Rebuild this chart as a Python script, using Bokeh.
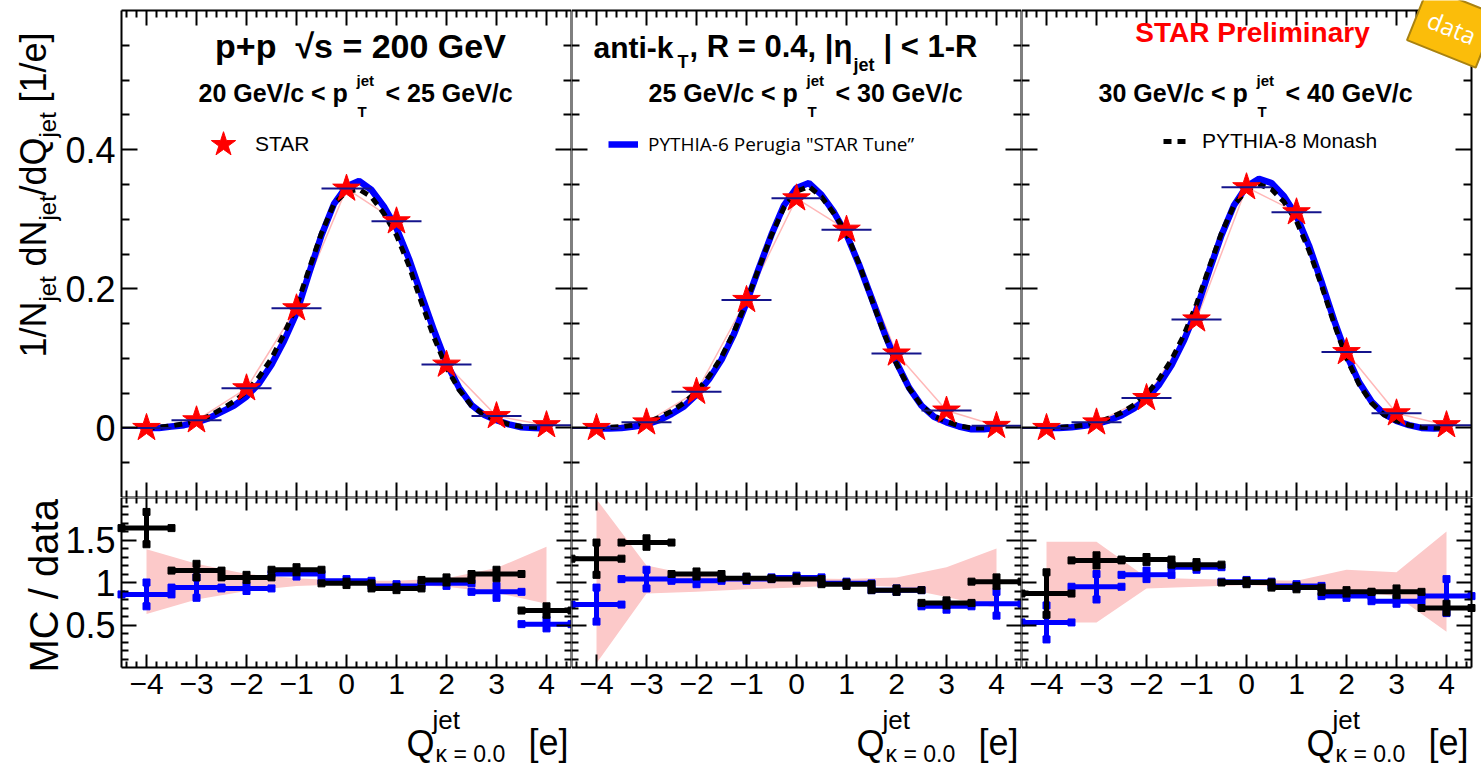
import numpy as np
import pandas as pd
from bokeh.plotting import figure
from bokeh.models import (ColumnDataSource, Range1d, LinearAxis, FixedTicker,
                          Label, Legend, LegendItem)
from bokeh.layouts import column, row
from bokeh.embed import file_html
from bokeh.resources import INLINE

# ---------------------------------------------------------------- data
q_bins = [-4, -3, -2, -1, 0, 1, 2, 3, 4]
q_half_width = 0.5
x_tick_labels = ["\u22124", "\u22123", "\u22122", "\u22121", "0", "1", "2", "3", "4"]
y_up_ticks = [0.0, 0.2, 0.4]
y_up_tick_labels = ["0", "0.2", "0.4"]
y_lo_ticks = [0.5, 1.0, 1.5]
y_lo_tick_labels = ["0.5", "1", "1.5"]

pt_low_text = ["20 GeV/c < p", "25 GeV/c < p", "30 GeV/c < p"]
pt_high_text = ["< 25 GeV/c", "< 30 GeV/c", "< 40 GeV/c"]

# STAR data (red stars)
star_pt20 = [0.000, 0.011, 0.057, 0.172, 0.344, 0.297, 0.091, 0.017, 0.004]
star_pt25 = [0.000, 0.008, 0.052, 0.184, 0.330, 0.285, 0.107, 0.025, 0.003]
star_pt30 = [0.000, 0.008, 0.043, 0.156, 0.346, 0.310, 0.109, 0.021, 0.004]

# MC curves
curve_q = [-4.0, -3.75, -3.5, -3.25, -3.0, -2.75, -2.5, -2.25, -2.0, -1.75, -1.5,
           -1.25, -1.0, -0.75, -0.5, -0.25, 0.0, 0.25, 0.5, 0.75, 1.0, 1.25, 1.5,
           1.75, 2.0, 2.25, 2.5, 2.75, 3.0, 3.25, 3.5, 3.75, 4.0]
p6_pt20 = [0.000, 0.000, 0.002, 0.004, 0.008, 0.014, 0.023, 0.032, 0.045, 0.064, 0.091,
           0.125, 0.165, 0.222, 0.277, 0.322, 0.347, 0.355, 0.342, 0.318, 0.287, 0.243, 0.191,
           0.140, 0.093, 0.058, 0.033, 0.019, 0.011, 0.005, 0.001, 0.000, -0.001]
p8_pt20 = [0.000, 0.001, 0.003, 0.006, 0.010, 0.017, 0.027, 0.038, 0.052, 0.073, 0.100,
           0.135, 0.175, 0.228, 0.280, 0.322, 0.340, 0.343, 0.332, 0.308, 0.277, 0.233, 0.180,
           0.130, 0.087, 0.055, 0.032, 0.019, 0.011, 0.005, 0.002, 0.001, 0.000]
p6_pt25 = [-0.001, -0.001, 0.000, 0.002, 0.005, 0.011, 0.020, 0.031, 0.048, 0.070, 0.098,
           0.135, 0.180, 0.230, 0.278, 0.320, 0.345, 0.352, 0.335, 0.310, 0.278, 0.235, 0.187,
           0.138, 0.094, 0.058, 0.032, 0.016, 0.008, 0.002, -0.002, -0.002, 0.000]
p8_pt25 = [0.000, 0.001, 0.002, 0.004, 0.008, 0.015, 0.024, 0.036, 0.052, 0.074, 0.102,
           0.138, 0.182, 0.230, 0.277, 0.317, 0.340, 0.347, 0.332, 0.308, 0.280, 0.236, 0.185,
           0.136, 0.092, 0.057, 0.032, 0.017, 0.009, 0.003, 0.000, 0.000, 0.000]
p6_pt30 = [0.000, 0.000, 0.001, 0.003, 0.006, 0.011, 0.018, 0.028, 0.042, 0.062, 0.090,
           0.126, 0.170, 0.225, 0.277, 0.320, 0.347, 0.358, 0.352, 0.333, 0.305, 0.262, 0.210,
           0.155, 0.105, 0.066, 0.038, 0.020, 0.010, 0.004, 0.000, -0.001, 0.000]
p8_pt30 = [0.000, 0.001, 0.002, 0.004, 0.008, 0.014, 0.022, 0.033, 0.048, 0.070, 0.098,
           0.134, 0.178, 0.230, 0.280, 0.320, 0.342, 0.350, 0.343, 0.325, 0.297, 0.255, 0.205,
           0.150, 0.100, 0.063, 0.036, 0.019, 0.010, 0.004, 0.001, 0.000, 0.000]

# MC / data ratios
r8_pt20 = [1.64, 1.14, 1.06, 1.15, 0.99, 0.93, 1.03, 1.10, 0.67]
e8_pt20 = [0.19, 0.08, 0.03, 0.03, 0.02, 0.02, 0.03, 0.05, 0.05]
r6_pt20 = [0.86, 0.94, 0.93, 1.10, 1.02, 0.96, 0.99, 0.89, 0.51]
e6_pt20 = [0.14, 0.12, 0.03, 0.03, 0.02, 0.02, 0.03, 0.07, 0.05]
r8_pt25 = [1.28, 1.47, 1.10, 1.05, 1.04, 0.98, 0.91, 0.76, 1.01]
e8_pt25 = [0.19, 0.05, 0.03, 0.02, 0.02, 0.02, 0.02, 0.03, 0.05]
r6_pt25 = [0.74, 1.04, 1.02, 1.04, 1.06, 0.99, 0.91, 0.72, 0.75]
e6_pt25 = [0.20, 0.11, 0.04, 0.02, 0.02, 0.02, 0.02, 0.04, 0.14]
r8_pt30 = [0.87, 1.26, 1.27, 1.21, 1.00, 0.94, 0.89, 0.89, 0.70]
e8_pt30 = [0.25, 0.06, 0.03, 0.03, 0.02, 0.02, 0.02, 0.04, 0.05]
r6_pt30 = [0.53, 0.95, 1.09, 1.18, 1.01, 0.96, 0.84, 0.78, 0.84]
e6_pt30 = [0.20, 0.15, 0.05, 0.03, 0.02, 0.02, 0.02, 0.03, 0.20]

# systematic band of the data (relative)
sys_lo_pt20 = [0.63, 0.80, 0.90, 0.96, 0.98, 0.98, 0.95, 0.88, 0.75]
sys_hi_pt20 = [1.39, 1.22, 1.10, 1.05, 1.02, 1.02, 1.05, 1.17, 1.42]
sys_lo_pt25 = [0.05, 0.87, 0.89, 0.92, 0.94, 0.97, 0.95, 0.83, 0.70]
sys_hi_pt25 = [1.98, 1.20, 1.08, 1.06, 1.05, 1.04, 1.06, 1.18, 1.40]
sys_lo_pt30 = [0.53, 0.53, 0.93, 0.95, 0.97, 0.95, 0.90, 0.84, 0.42]
sys_hi_pt30 = [1.48, 1.48, 1.06, 1.04, 1.03, 1.02, 1.15, 1.12, 1.60]

# ---------------------------------------------------------------- layout constants
FONT = "Liberation Sans"
PAGE_W, PAGE_H = 1481, 771
PANEL_W = 450
panel_left = [121, 571, 1021]
UP_TOP, UP_BOT = 10, 497
LO_TOP, LO_BOT = 497, 667
XR = (-4.5, 4.5)
YU = (-0.1, 0.6)
YL = (0.0, 2.0)
BASELINE_SHIFT = 0.35   # label anchor sits ~0.35 em above the glyph baseline

STAR_RED = "#ff0000"
BLUE = "#0000ff"
NAVY = "#14148c"
PINK_LINE = "#ffb8b8"
BAND = "#fcc9c9"


def ux(k, px):
    return XR[0] + (px - panel_left[k]) / PANEL_W * (XR[1] - XR[0])


def uy(py):
    return YU[1] - (py - UP_TOP) / (UP_BOT - UP_TOP) * (YU[1] - YU[0])


def ly(py):
    return YL[1] - (py - LO_TOP) / (LO_BOT - LO_TOP) * (YL[1] - YL[0])


x_minor = [round(v, 1) for v in np.arange(-4.4, 4.41, 0.2) if abs(v - round(v)) > 1e-6]


def add_frame_axes(p, yr, y_major, y_minor, y_labels, show_x, show_y,
                   x_in, x_min_in, y_in, y_min_in):
    specs = [("below", yr[0], True, show_x), ("above", yr[1], True, False),
             ("left", XR[0], False, show_y), ("right", XR[1], False, False)]
    for side, loc, is_x, show in specs:
        if is_x:
            ticker = FixedTicker(ticks=q_bins, minor_ticks=x_minor)
            labels = dict(zip(q_bins, x_tick_labels))
            tin, tmin, bounds, fsize = x_in, x_min_in, XR, "30px"
        else:
            ticker = FixedTicker(ticks=y_major, minor_ticks=y_minor)
            labels = dict(zip(y_major, y_labels))
            tin, tmin, bounds, fsize = y_in, y_min_in, yr, "36px"
        ax = LinearAxis(fixed_location=loc, ticker=ticker, bounds=bounds)
        ax.axis_line_color = "black"
        ax.axis_line_width = 2
        ax.major_tick_in = tin
        ax.major_tick_out = 0
        ax.minor_tick_in = tmin
        ax.minor_tick_out = 0
        ax.major_tick_line_color = "black"
        ax.major_tick_line_width = 2
        ax.minor_tick_line_color = "black"
        ax.minor_tick_line_width = 2
        ax.major_label_text_font = FONT
        ax.major_label_text_font_size = fsize
        ax.major_label_text_color = "black"
        ax.major_label_standoff = 6
        if show:
            ax.major_label_overrides = labels
        else:
            ax.major_label_overrides = {t: "" for t in labels}
        p.add_layout(ax, side)


def make_fig(k, upper):
    left_px = 0 if k == 0 else panel_left[k]
    right_px = panel_left[k] + PANEL_W if k < 2 else PAGE_W
    if upper:
        top_px, bot_px, yr = 0, UP_BOT, YU
        y_range = Range1d(YU[0], uy(top_px))
    else:
        top_px, bot_px, yr = LO_TOP, PAGE_H, YL
        y_range = Range1d(ly(bot_px), YL[1])
    p = figure(width=right_px - left_px, height=bot_px - top_px,
               x_range=Range1d(ux(k, left_px), ux(k, right_px)), y_range=y_range,
               x_axis_location=None, y_axis_location=None,
               toolbar_location=None, output_backend="svg",
               min_border_left=0, min_border_right=0, min_border_top=0, min_border_bottom=0)
    p.grid.visible = False
    p.outline_line_color = None
    p.background_fill_color = "white"
    p.border_fill_color = "white"
    if upper:
        ymin = [round(v, 2) for v in np.arange(-0.05, 0.6, 0.05) if abs(v / 0.2 - round(v / 0.2)) > 1e-6]
        add_frame_axes(p, yr, y_up_ticks, ymin, y_up_tick_labels,
                       show_x=False, show_y=(k == 0), x_in=15, x_min_in=7, y_in=16, y_min_in=8)
    else:
        ymin = [round(v, 1) for v in np.arange(0.1, 2.0, 0.1) if abs(v / 0.5 - round(v / 0.5)) > 1e-6]
        add_frame_axes(p, yr, y_lo_ticks, ymin, y_lo_tick_labels,
                       show_x=True, show_y=(k == 0), x_in=13, x_min_in=6, y_in=15, y_min_in=7)
    return p, left_px, bot_px


def lab(p, k, lower, px, py, text, size, bold=False, color="black", font=FONT,
        angle=0.0, align="left", **extra):
    # (px, py): page pixel of the glyph baseline start; convert to the label anchor
    s = BASELINE_SHIFT * size
    apx = px - s * np.sin(angle)
    apy = py - s * np.cos(angle)
    y = ly(apy) if lower else uy(apy)
    p.add_layout(Label(x=ux(k, apx), y=y, text=text, text_font=font, text_font_size=f"{size}px",
                       text_font_style="bold" if bold else "normal", text_color=color,
                       angle=angle, text_align=align, text_baseline="alphabetic", **extra))


def legend(renderer, text, left, bottom, gw, gh, standoff, font, size):
    return Legend(items=[LegendItem(label=text, renderers=[renderer])],
                  location=(left, bottom), glyph_width=gw, glyph_height=gh,
                  label_standoff=standoff, padding=0, margin=0, spacing=0,
                  border_line_color=None, background_fill_alpha=0,
                  label_text_font=font, label_text_font_size=f"{size}px",
                  label_text_color="black")


star_sets = [star_pt20, star_pt25, star_pt30]
p6_sets = [p6_pt20, p6_pt25, p6_pt30]
p8_sets = [p8_pt20, p8_pt25, p8_pt30]
r8_sets = [(r8_pt20, e8_pt20), (r8_pt25, e8_pt25), (r8_pt30, e8_pt30)]
r6_sets = [(r6_pt20, e6_pt20), (r6_pt25, e6_pt25), (r6_pt30, e6_pt30)]
sys_sets = [(sys_lo_pt20, sys_hi_pt20), (sys_lo_pt25, sys_hi_pt25), (sys_lo_pt30, sys_hi_pt30)]

uppers, lowers = [], []
for k in range(3):
    # ------------------------------------------------ upper panel
    p, c_left, c_bot = make_fig(k, True)
    sd = pd.DataFrame({"q": q_bins, "v": star_sets[k]})
    sd["q0"] = sd["q"] - q_half_width
    sd["q1"] = sd["q"] + q_half_width
    ssrc = ColumnDataSource(sd)
    p.line("q", "v", source=ssrc, line_color=PINK_LINE, line_width=1.5)
    r_p6 = p.line(curve_q, p6_sets[k], line_color=BLUE, line_width=6.5)
    r_p8 = p.line(curve_q, p8_sets[k], line_color="black", line_width=5, line_dash="8 6")
    r_star = p.scatter("q", "v", source=ssrc, marker="star", size=29,
                       fill_color=STAR_RED, line_color=STAR_RED)
    p.segment("q0", "v", "q1", "v", source=ssrc, line_color=NAVY, line_width=2)

    L = panel_left[k]
    # pT bin text
    lab(p, k, False, L + 77, 101, pt_low_text[k], 25, bold=True)
    lab(p, k, False, L + 235, 85, "jet", 15, bold=True)
    lab(p, k, False, L + 236, 116, "T", 15, bold=True)
    lab(p, k, False, L + 264, 101, pt_high_text[k], 25, bold=True)

    if k == 0:
        lab(p, 0, False, 360, 57, "p+p\u00a0\u00a0\u221as = 200 GeV", 34, bold=True, align="center")
        p.add_layout(legend(r_star, "STAR", 191 - c_left, c_bot - (144 + 32), 64, 64, 0, FONT, 21))
        # y-axis title
        ang = np.pi / 2
        lab(p, 0, False, 46, 357, "1/N", 36, angle=ang)
        lab(p, 0, False, 55, 301, "jet", 24, angle=ang)
        lab(p, 0, False, 46, 266, "dN", 36, angle=ang)
        lab(p, 0, False, 55, 220, "jet", 24, angle=ang)
        lab(p, 0, False, 46, 195, "/dQ", 36, angle=ang)
        lab(p, 0, False, 55, 137, "jet", 24, angle=ang)
        lab(p, 0, False, 46, 102, "[1/e]", 36, angle=ang)
    elif k == 1:
        lab(p, 1, False, 593, 57, "anti-k", 30, bold=True)
        lab(p, 1, False, 677, 68, "T", 18, bold=True)
        lab(p, 1, False, 689, 57, ", R = 0.4, |\u03b7", 31, bold=True)
        lab(p, 1, False, 853, 71, "jet", 18, bold=True)
        lab(p, 1, False, 883, 57, "| < 1-R", 31, bold=True)
        p.add_layout(legend(r_p6, "PYTHIA-6 Perugia \"STAR Tune\u201d", 608 - c_left, c_bot - 157,
                            30, 20, 10, "Open Sans", 19))
    else:
        lab(p, 2, False, 1252, 42, "STAR Preliminary", 28, bold=True, color=STAR_RED, align="center")
        p.add_layout(legend(r_p8, "PYTHIA-8 Monash", 1163 - c_left, c_bot - 153,
                            27, 20, 12, FONT, 21))
        lab(p, 2, False, 1414, 21, "data", 24, font="Open Sans", color="white", angle=-0.38,
            background_fill_color="#fbbd0a", border_line_color="#a98210",
            border_line_width=2, padding=12)
    uppers.append(p)

    # ------------------------------------------------ ratio panel
    g, _, _ = make_fig(k, False)
    lo, hi = sys_sets[k]
    g.varea(x=q_bins, y1=lo, y2=hi, fill_color=BAND)
    for (rv, ev), col in [(r6_sets[k], BLUE), (r8_sets[k], "black")]:
        df = pd.DataFrame({"q": q_bins, "r": rv, "e": ev})
        df["q0"] = df["q"] - q_half_width
        df["q1"] = df["q"] + q_half_width
        df["r0"] = df["r"] - df["e"]
        df["r1"] = df["r"] + df["e"]
        src = ColumnDataSource(df)
        g.segment("q0", "r", "q1", "r", source=src, line_color=col, line_width=5)
        g.segment("q", "r0", "q", "r1", source=src, line_color=col, line_width=5)
        for xc, yc in [("q0", "r"), ("q1", "r"), ("q", "r0"), ("q", "r1")]:
            g.scatter(xc, yc, source=src, marker="square", size=7, fill_color=col, line_color=col)
    R = L + PANEL_W
    lab(g, k, True, R - 165, 756, "Q", 36)
    lab(g, k, True, R - 139, 729, "jet", 26)
    lab(g, k, True, R - 136, 762, "\u03ba = 0.0", 23)
    lab(g, k, True, R - 43, 755, "[e]", 36)
    if k == 0:
        lab(g, 0, True, 57, 672, "MC / data", 40, angle=np.pi / 2)
    lowers.append(g)

layout = column(row(*uppers, spacing=0), row(*lowers, spacing=0), spacing=0)
open("out.html", "w").write(file_html(layout, INLINE, "STAR jet charge"))
